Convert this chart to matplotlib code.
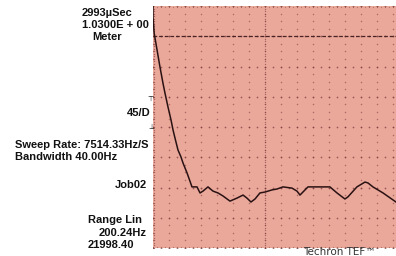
import numpy as np
import matplotlib
matplotlib.use("Agg")
import matplotlib.pyplot as plt

# trace, in screen divisions (x: 1 div = major vertical line, y: 8 divs tall)
freq_div = [0.00, 0.00, 0.01, 0.036, 0.0625, 0.089, 0.107, 0.134, 0.161, 0.179,
            0.196, 0.223, 0.25, 0.268, 0.304, 0.330, 0.348, 0.393, 0.420, 0.446,
            0.491, 0.536, 0.580, 0.625, 0.6875, 0.75, 0.804, 0.839, 0.875, 0.911,
            0.955, 1.0, 1.0625, 1.107, 1.161, 1.241, 1.286, 1.3125, 1.339, 1.384,
            1.464, 1.580, 1.643, 1.714, 1.741, 1.821, 1.893, 1.920, 1.964, 2.054,
            2.170]
level_div = [7.97, 7.64, 7.11, 6.55, 5.98, 5.45, 5.12, 4.66, 4.23, 3.90,
             3.64, 3.24, 3.01, 2.81, 2.48, 2.21, 2.02, 2.02, 1.82, 1.88,
             2.02, 1.88, 1.82, 1.72, 1.55, 1.65, 1.75, 1.65, 1.52, 1.62,
             1.82, 1.85, 1.92, 1.95, 2.02, 1.98, 1.88, 1.75, 1.85, 2.02,
             2.02, 2.02, 1.82, 1.62, 1.69, 2.02, 2.18, 2.15, 2.02, 1.82,
             1.52]
ref_level = 7.0
x_max = 2.17
y_max = 8.0

pink = "#eaa89b"
dot = "#7a3a38"

fig = plt.figure(figsize=(3.96, 2.56), dpi=100)
fig.patch.set_facecolor("white")
ax = fig.add_axes([153 / 396, 8 / 256, 1 - 153 / 396, 242 / 256])
ax.set_facecolor(pink)
ax.set_xlim(0, x_max)
ax.set_ylim(0, y_max)
for s in ax.spines.values():
    s.set_visible(False)
ax.set_xticks([])
ax.set_yticks([])

# dot grid
gx, gy = np.meshgrid(np.arange(0, x_max, 1 / 7), np.arange(0, y_max + 0.01, 0.25))
ax.scatter(gx.ravel(), gy.ravel(), s=1.2, color=dot, alpha=0.55, lw=0)
mx, my = np.meshgrid(np.arange(0, x_max, 1 / 14), np.arange(0, y_max + 0.01, 1))
ax.scatter(mx.ravel(), my.ravel(), s=1.6, color=dot, alpha=0.7, lw=0)
vy = np.arange(0, y_max, 1 / 12)
ax.scatter(np.ones_like(vy), vy, s=1.0, color=dot, alpha=0.6, lw=0)
ax.scatter(np.zeros_like(vy) + 0.01, vy, s=1.0, color=dot, alpha=0.6, lw=0)
tx = np.arange(0, x_max, 1 / 28)
ax.scatter(tx, np.full_like(tx, y_max - 0.03), s=0.8, color=dot, alpha=0.5, lw=0)
ax.scatter(tx, np.full_like(tx, 0.03), s=0.8, color=dot, alpha=0.5, lw=0)

ax.axhline(ref_level, color="#4a2222", lw=0.9, ls=(0, (3, 1.5)))
ax.plot(freq_div, level_div, color="#2a1212", lw=1.1)

bold = dict(family="Liberation Sans", weight="bold", fontsize=8.0, color="#111111")
fig.text(82 / 396, 1 - 13 / 256, "2993\u00b5Sec", va="center", ha="left", **bold)
fig.text(82 / 396, 1 - 25 / 256, "1.0300E + 00", va="center", ha="left", **bold)
fig.text(92 / 396, 1 - 37 / 256, "Meter", va="center", ha="left", **bold)
fig.text(151 / 396, 1 - 113 / 256, "45/D", va="center", ha="right", **bold)
fig.text(150 / 396, 1 - 99 / 256, "\u22a4", va="center", ha="center",
         family="DejaVu Sans", fontsize=5, color="#111111")
fig.text(151 / 396, 1 - 127 / 256, "\u22a5", va="center", ha="center",
         family="DejaVu Sans", fontsize=5, color="#111111")
fig.text(15 / 396, 1 - 145 / 256, "Sweep Rate: 7514.33Hz/S", va="center", ha="left", **bold)
fig.text(15 / 396, 1 - 157 / 256, "Bandwidth 40.00Hz", va="center", ha="left", **bold)
fig.text(147 / 396, 1 - 185 / 256, "Job02", va="center", ha="right", **bold)
fig.text(88 / 396, 1 - 220 / 256, "Range Lin", va="center", ha="left", **bold)
fig.text(147 / 396, 1 - 233 / 256, "200.24Hz", va="center", ha="right", **bold)
fig.text(88 / 396, 1 - 245 / 256, "21998.40", va="center", ha="left", **bold)
fig.text(303 / 396, 1 / 256, "Techron TEF\u2122", va="baseline", ha="left",
         family="DejaVu Sans", fontsize=7.5, color="#333333")

fig.savefig("out.png", dpi=100)
